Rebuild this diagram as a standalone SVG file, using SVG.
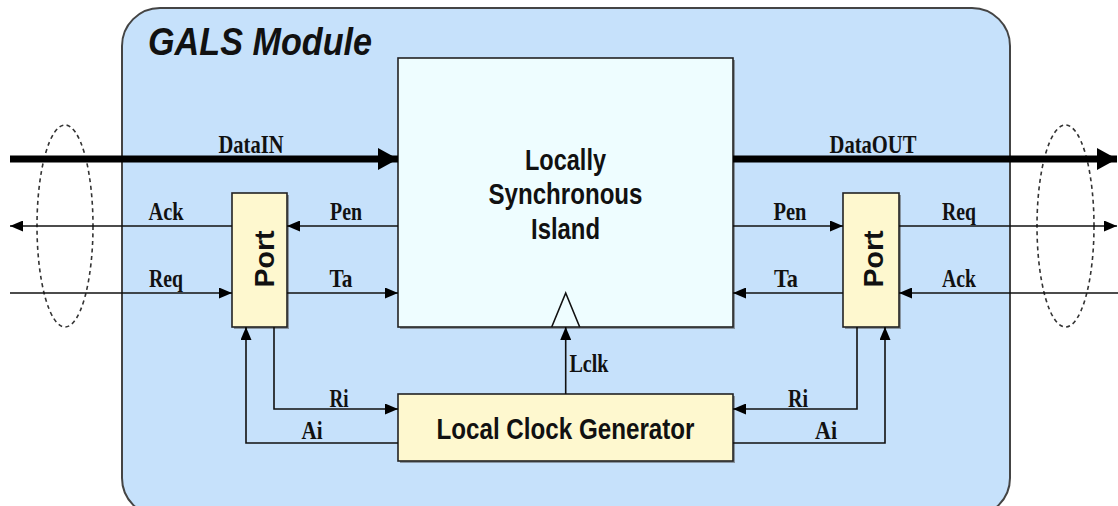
<svg xmlns="http://www.w3.org/2000/svg" width="1118" height="506" viewBox="0 0 1118 506">
<style>
.lbl{font-family:"Liberation Serif","Times New Roman",serif;font-weight:bold;font-size:25px;fill:#111;text-anchor:middle}
.sans{font-family:"Liberation Sans",Arial,sans-serif;font-weight:bold;fill:#111;text-anchor:middle}
.ln{fill:none;stroke:#111;stroke-width:1.6}
.thick{fill:none;stroke:#000;stroke-width:7}
.box{stroke:#222;stroke-width:1.6}
.shadow{fill:#555;opacity:0.55}
.ell{fill:none;stroke:#333;stroke-width:1.6;stroke-dasharray:4 3.5}
</style>
<defs>
<marker id="a" viewBox="0 0 13 11" refX="13" refY="5.5" markerWidth="13" markerHeight="11" markerUnits="userSpaceOnUse" orient="auto">
<path d="M0,0 L13,5.5 L0,11 z" fill="#000"/>
</marker>
<marker id="b" viewBox="0 0 20 22" refX="20" refY="11" markerWidth="20" markerHeight="22" markerUnits="userSpaceOnUse" orient="auto">
<path d="M0,0 L20,11 L0,22 z" fill="#000"/>
</marker>
</defs>

<g id="gals-module">
<rect x="122" y="8" width="888" height="508" rx="38" ry="38" fill="#c6e1fb" stroke="#444" stroke-width="2"/>
<text x="148" y="55" font-family="Liberation Sans, Arial, sans-serif" font-weight="bold" font-style="italic" font-size="39" fill="#111" textLength="224" lengthAdjust="spacingAndGlyphs">GALS Module</text>
</g>

<g id="ellipses">
<ellipse class="ell" cx="65" cy="226" rx="28" ry="101"/>
<ellipse class="ell" cx="1065.5" cy="226" rx="28.5" ry="101"/>
</g>

<g id="island">
<rect class="shadow" x="400" y="60" width="335" height="269"/>
<rect class="box" x="398" y="58" width="335" height="269" fill="#eefdff"/>
<text class="sans" x="565.5" y="170" font-size="29" textLength="81" lengthAdjust="spacingAndGlyphs">Locally</text>
<text class="sans" x="565.5" y="204" font-size="29" textLength="154" lengthAdjust="spacingAndGlyphs">Synchronous</text>
<text class="sans" x="565.5" y="239" font-size="29" textLength="69" lengthAdjust="spacingAndGlyphs">Island</text>
<path d="M551.7,327 L565.7,293 L579.7,327" fill="none" stroke="#111" stroke-width="1.6"/>
</g>

<g id="port-left">
<rect class="shadow" x="234" y="195" width="55" height="134"/>
<rect class="box" x="232" y="193" width="55" height="134" fill="#fef8cf"/>
<text class="sans" transform="translate(274,259) rotate(-90)" x="0" y="0" font-size="27" textLength="57" lengthAdjust="spacingAndGlyphs">Port</text>
</g>

<g id="port-right">
<rect class="shadow" x="845" y="195" width="56" height="134"/>
<rect class="box" x="843" y="193" width="56" height="134" fill="#fef8cf"/>
<text class="sans" transform="translate(883,259) rotate(-90)" x="0" y="0" font-size="27" textLength="57" lengthAdjust="spacingAndGlyphs">Port</text>
</g>

<g id="clock-generator">
<rect class="shadow" x="400" y="396" width="335" height="67"/>
<rect class="box" x="398" y="394" width="335" height="67" fill="#fef8cf"/>
<text class="sans" x="565.5" y="439" font-size="29" textLength="258" lengthAdjust="spacingAndGlyphs">Local Clock Generator</text>
</g>

<g id="connectors">
<path class="thick" d="M10,159 H398" marker-end="url(#b)"/>
<path class="thick" d="M733,159 H1117" marker-end="url(#b)"/>
<path class="ln" d="M232,226 H10" marker-end="url(#a)"/>
<path class="ln" d="M398,226 H287" marker-end="url(#a)"/>
<path class="ln" d="M10,293 H232" marker-end="url(#a)"/>
<path class="ln" d="M287,293 H398" marker-end="url(#a)"/>
<path class="ln" d="M733,226 H843" marker-end="url(#a)"/>
<path class="ln" d="M899,226 H1117" marker-end="url(#a)"/>
<path class="ln" d="M843,293 H733" marker-end="url(#a)"/>
<path class="ln" d="M1118,293 H899" marker-end="url(#a)"/>
<path class="ln" d="M565.7,394 V327" marker-end="url(#a)"/>
<path class="ln" d="M274,327 V409 H398" marker-end="url(#a)"/>
<path class="ln" d="M398,443 H246 V327" marker-end="url(#a)"/>
<path class="ln" d="M857,327 V409 H733" marker-end="url(#a)"/>
<path class="ln" d="M733,443 H885 V327" marker-end="url(#a)"/>
</g>

<g id="labels">
<text class="lbl" x="251" y="153" textLength="65" lengthAdjust="spacingAndGlyphs">DataIN</text>
<text class="lbl" x="873" y="153" textLength="87" lengthAdjust="spacingAndGlyphs">DataOUT</text>
<text class="lbl" x="166" y="220" textLength="35" lengthAdjust="spacingAndGlyphs">Ack</text>
<text class="lbl" x="346" y="220" textLength="32" lengthAdjust="spacingAndGlyphs">Pen</text>
<text class="lbl" x="166" y="287" textLength="34" lengthAdjust="spacingAndGlyphs">Req</text>
<text class="lbl" x="341" y="287" textLength="23" lengthAdjust="spacingAndGlyphs">Ta</text>
<text class="lbl" x="790" y="220" textLength="33" lengthAdjust="spacingAndGlyphs">Pen</text>
<text class="lbl" x="959" y="220" textLength="34" lengthAdjust="spacingAndGlyphs">Req</text>
<text class="lbl" x="786" y="287" textLength="24" lengthAdjust="spacingAndGlyphs">Ta</text>
<text class="lbl" x="959" y="287" textLength="34" lengthAdjust="spacingAndGlyphs">Ack</text>
<text class="lbl" x="589" y="372" textLength="39" lengthAdjust="spacingAndGlyphs">Lclk</text>
<text class="lbl" x="339" y="407" textLength="19" lengthAdjust="spacingAndGlyphs">Ri</text>
<text class="lbl" x="312" y="439" textLength="21" lengthAdjust="spacingAndGlyphs">Ai</text>
<text class="lbl" x="798" y="407" textLength="20" lengthAdjust="spacingAndGlyphs">Ri</text>
<text class="lbl" x="826" y="439" textLength="22" lengthAdjust="spacingAndGlyphs">Ai</text>
</g>
</svg>
